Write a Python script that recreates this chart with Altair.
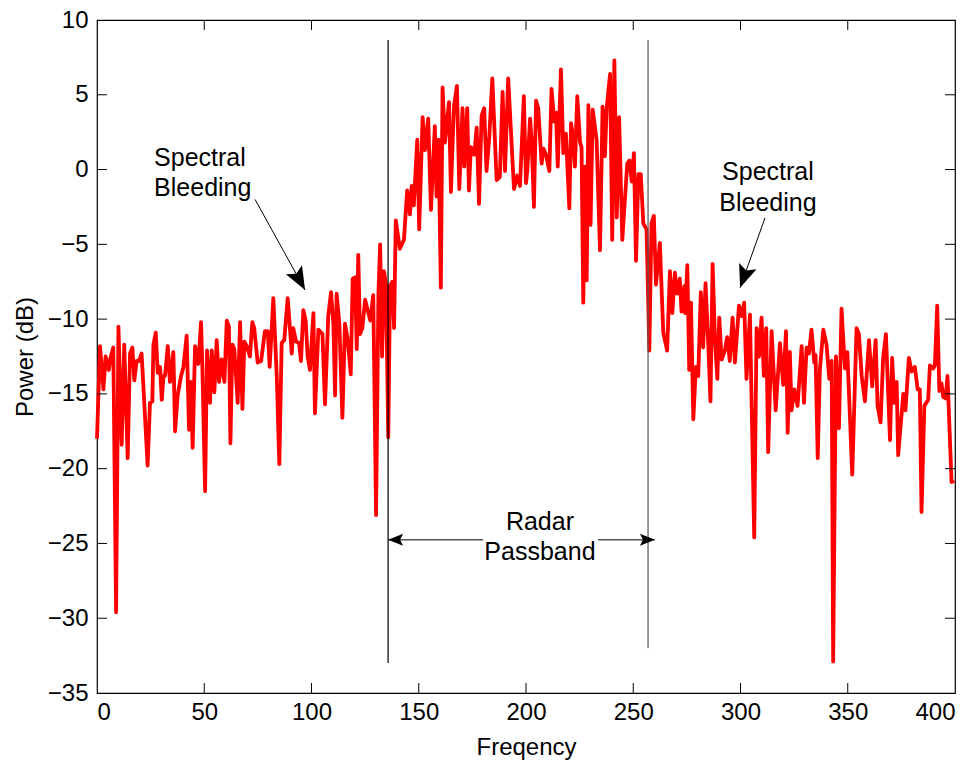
import math
import altair as alt
import pandas as pd

# ---------------- data ----------------
freq = [
    0, 1.4, 3, 4, 5.5, 6.3, 7.6, 8.9, 10, 11.5, 12.7, 14.3, 15.4, 16.5, 17.4, 18.5, 19.6, 20.8,
    23.6, 24.7, 25.8, 26.3, 27.4, 28.3, 29.4, 30.2, 31, 31.7, 33, 34, 35.6, 36.4, 37.6, 39.2,
    40.3, 41.8, 42.9, 43.7, 44.6, 45.7, 47.2, 48.5, 49.1, 50.4, 51.3, 52.7, 53.5, 54.7, 55.8,
    56.9, 58.1, 59.4, 60.5, 61.5, 62.2, 63.1, 64, 65.6, 66.7, 67.8, 68.7, 69.8, 71.3, 72.4,
    73.3, 74.9, 76.5, 78.3, 79.6, 80.5, 82.2, 83.8, 85, 86.1, 87.3, 88.9, 90.8, 91.5, 92.8,
    94.2, 95.1, 96.2,
    97.3, 98.2, 99.3, 100.9, 101.6, 103.2, 105.1, 106.3, 107.8, 109.1, 110.2, 111, 111.7, 113,
    114.4, 115.6, 116.9, 118.3, 119.2, 120.3, 121.1, 121.8, 122.6, 123.7, 125, 126.2, 127.4,
    128.8, 130.1, 131.2, 132, 132.9, 133.8, 134.7, 135.8, 136.6, 137.7, 138.5, 139.3,
    141.2, 143.1, 144.6, 145.9, 146.7, 147.7, 149.3, 150.2, 151.8, 152.9, 154.4, 155.7, 157.5,
    158.3, 159.2, 160.3, 161.1, 162.2, 164.1, 165, 166.4, 167.8, 168.9, 170.4, 171.2, 172.6,
    173.4, 174.3, 175.9, 177, 178.1, 179.3, 180.5, 181.6, 182.9, 184.3, 186.3, 187.8, 189.1,
    190.2, 191.7, 194.4, 195.9, 197.2,
    199, 200, 200.6, 201.9, 202.6, 203.7, 204.7, 205.7, 207.3, 208.1, 209.3, 210.9, 211.9,
    213.2, 214, 214.8, 216.3, 217.4, 218.6, 220.2, 221, 221.8, 222.8, 223.9, 225.2, 225.9,
    226.7, 227.5, 228.3, 229.1, 230.1, 231.1, 232.9, 234.5, 235.7, 236.8, 237.6, 239.2, 240.2,
    241.2, 242.3, 243.4, 244.9, 247.2, 248.2, 249.3, 250.3, 251.3, 252.4, 253.5,
    254.7, 256.2, 257.5, 258.5, 259.6, 260.6, 262.4, 264, 265.8, 267.1, 268.2, 269.4, 270.5,
    271.7, 272.5, 273.8, 274.2, 275.2, 276.1, 276.9, 278, 279.2, 280.3, 281.5, 282.6, 283.7,
    284.9, 286, 287, 288.1, 289.2, 290.1, 291.2, 292.7, 293.8, 295, 296.3,
    297.4, 299.3, 300.5, 301.7, 302.8, 304.4, 306.4, 307.5, 308.6, 309.8, 310.9, 312, 312.9,
    314.5, 316.4, 318.4, 319.9, 321.2, 322, 323, 323.8, 325.1, 326.6, 328.5, 329.6, 330.8,
    331.9, 333.1, 334.4, 335, 336, 337, 338.6, 340.1, 341.4, 342.5, 343.2, 344.5, 345.9,
    347.1, 348.7, 349.8, 352.1, 354.1, 355.2, 356.5, 358, 359.9, 361.4, 363, 363.9, 365.3,
    366.5, 367.8, 369.7, 370.7, 371.7, 372.8, 373.5, 375.9, 376.9, 378.5, 379.8, 381.3,
    382.6, 383.6, 384.4, 385.7, 387.5, 388.3, 389.9, 390.6, 391.7, 392.7, 393.7, 394.5,
    395.6, 396.5, 398.4, 399.6,
]
power = [
    -18.0, -11.8, -14.7, -12.5, -13.4, -12.6, -11.9, -29.6, -10.5, -18.4, -11.7, -19.3, -12.3,
    -11.9, -14.1, -12.8, -12.8, -12.3,
    -19.8, -15.6, -15.5, -11.7, -10.9, -13.6, -13.2, -15.4, -13.8, -13.8, -11.8, -14.2, -12.2,
    -17.5, -15.1, -13.8,
    -13.2, -11.1, -17.4, -14.2, -18.6, -11.8, -13.0, -10.2, -13.1, -21.5, -12.1, -15.6, -12.1,
    -14.9, -11.4,
    -14.2, -12.7, -14.2, -10.1, -10.5, -18.3, -11.7, -12.0, -15.6, -10.2, -16.0, -11.5, -11.8,
    -12.5, -10.2,
    -10.6, -12.9, -12.8, -10.8, -10.8, -13.2, -8.6, -13.8, -19.7, -11.6, -11.4, -8.6, -12.3,
    -10.6, -11.5,
    -11.6, -12.8, -9.4,
    -10.1, -12.5, -13.4, -9.6, -16.3, -10.7, -11.0, -15.7, -9.8, -8.2, -10.3, -15.1, -8.3,
    -10.3,
    -16.6, -10.3, -11.4, -13.7, -7.3, -7.2, -12.0, -5.7, -11.0, -10.6, -8.7, -9.4, -10.1,
    -8.4, -23.1, -8.3, -5.0, -12.5, -6.8, -7.6, -17.9, -7.8, -7.5, -10.6, -3.4,
    -5.3, -4.7, -1.4, -3.0, -1.1, -2.4, 2.0, -4.0, 3.5, 1.3, 3.4, -2.7, 2.9,
    -1.8, 2.0, -7.9, 5.5, 1.8, 4.5, -1.5, 4.2, 5.6, -1.3, 4.1, 0.2, 4.1,
    -1.4, 1.5, 1.0, 2.8, -2.3, 3.6, 4.1, -0.1, 2.2, 6.1, -0.7, -0.5, 5.2,
    -0.1, 6.1, -1.3, -0.4, -1.1,
    4.9, -0.9, -0.1, 3.4, 2.0, -2.5, 4.6, 4.1, 0.4, 1.4, 1.0, -0.1, 5.4,
    3.2, 3.8, 0.2, 6.7, 1.1, 2.4, -2.6, 3.1, 2.4, 0.2, 4.9, 1.8, 1.5,
    -8.9, 0.2, -7.4, 4.3, -3.7, 4.0, 2.0, -5.4, 4.2, 0.9, 4.1, 6.4, -4.7,
    7.3, -3.2, 3.5, -4.7, 0.4, 0.6, -0.8, 1.1, -6.1, -0.3, -0.3,
    -3.6, -4.0, -12.1, -3.6, -3.1, -7.7, -4.9, -10.9, -12.1, -6.8, -9.6, -6.9, -8.3,
    -7.3, -9.5, -7.8, -9.6, -6.4, -13.4, -8.9, -16.7, -13.2, -13.8, -8.2, -11.9, -7.6,
    -11.4, -15.5, -6.3, -11.4, -14.0, -9.9, -12.7, -12.1, -11.2, -12.8, -9.9,
    -12.9, -9.1, -9.8, -8.9, -14.0, -9.7, -24.6, -10.6, -12.5, -9.9, -13.8, -10.6, -18.9,
    -10.8, -16.1, -11.6, -14.4, -10.8, -17.6, -12.2, -16.1, -14.7, -15.8, -11.8, -15.6, -11.9,
    -12.3, -10.7, -12.9, -12.4, -19.3, -13.4, -10.7, -11.7, -14.0, -12.8, -32.9, -12.5, -17.3,
    -9.3, -13.3, -12.2, -20.4, -10.6, -11.0, -13.8, -15.5, -11.4, -14.5, -11.4, -15.8, -16.9,
    -12.6, -11.0, -18.1, -12.6, -15.6, -14.2, -19.1, -15.0, -16.1, -12.6, -13.5, -13.2,
    -14.7, -14.7, -22.9, -15.8, -15.4, -13.1, -13.3, -13.1, -9.1, -14.8, -14.3, -15.2,
    -15.3, -13.8, -20.9, -20.8,
]

x_ticks = [0, 50, 100, 150, 200, 250, 300, 350, 400]
y_ticks = [-35, -30, -25, -20, -15, -10, -5, 0, 5, 10]

# passband boundaries (vertical lines)
band_x = [135.7, 256.9]
band_top = [8.66, 8.66]
band_bottom = [-33.0, -32.0]
band_color = ["#000000", "#555555"]

# ---------------- layout ----------------
W, H = 858, 673
XMIN, XMAX, YMIN, YMAX = 0, 400, -35, 10
PX_X = W / (XMAX - XMIN)
PX_Y = H / (YMAX - YMIN)
FONT = "Liberation Sans"
FS = 24
FS_TXT = 25

xs = alt.Scale(domain=[XMIN, XMAX], nice=False, zero=False)
ys = alt.Scale(domain=[YMIN, YMAX], nice=False, zero=False)

spec_df = pd.DataFrame({"f": freq, "p": power})
spec_df = spec_df.sort_values("f", kind="stable").reset_index(drop=True)

line = alt.Chart(spec_df).mark_line(color="#FF0000", strokeWidth=3.8, strokeJoin="round").encode(
    x=alt.X("f:Q", scale=xs,
            axis=alt.Axis(values=x_ticks, title="Freqency", labelFontSize=FS, titleFontSize=FS,
                          labelFont=FONT, titleFont=FONT, titleFontWeight="normal",
                          labelColor="black", titleColor="black", ticks=False, domain=False,
                          grid=False, labelPadding=7, titleY=54, titleBaseline="middle")),
    y=alt.Y("p:Q", scale=ys,
            axis=alt.Axis(values=y_ticks, title="Power (dB)", labelFontSize=FS, titleFontSize=FS,
                          labelFont=FONT, titleFont=FONT, titleFontWeight="normal",
                          labelColor="black", titleColor="black", ticks=False, domain=False,
                          grid=False, labelPadding=9, titleX=-72, titleY=H / 2,
                          titleAngle=270, titleAlign="center", titleBaseline="middle")),
)

# inside tick marks on all four sides
tlx = 10 / PX_X
tly = 10 / PX_Y
tick_rows = []
for v in x_ticks[1:-1]:
    tick_rows.append({"x": v, "x2": v, "y": YMIN, "y2": YMIN + tly})
    tick_rows.append({"x": v, "x2": v, "y": YMAX, "y2": YMAX - tly})
for v in y_ticks[1:-1]:
    tick_rows.append({"x": XMIN, "x2": XMIN + tlx, "y": v, "y2": v})
    tick_rows.append({"x": XMAX - tlx, "x2": XMAX, "y": v, "y2": v})
ticks = alt.Chart(pd.DataFrame(tick_rows)).mark_rule(color="black", strokeWidth=1).encode(
    x=alt.X("x:Q", scale=xs), x2="x2:Q", y=alt.Y("y:Q", scale=ys), y2="y2:Q")

band_df = pd.DataFrame({"x": band_x, "y": band_bottom, "y2": band_top, "c": band_color})
bands = alt.Chart(band_df).mark_rule(strokeWidth=1.2).encode(
    x=alt.X("x:Q", scale=xs), y=alt.Y("y:Q", scale=ys), y2="y2:Q",
    color=alt.Color("c:N", scale=None))

# arrows
ARROW = "M0,0L-0.4,1L0,0.8L0.4,1Z"


def head_angle(x0, y0, x1, y1):
    dx = (x1 - x0) * PX_X
    dy = -(y1 - y0) * PX_Y
    return math.degrees(math.atan2(dx, -dy)) % 360


bleed_lines = pd.DataFrame({
    "x": [73.7, 311.4], "y": [-2.0, -3.24],
    "x2": [97.0, 299.8], "y2": [-8.05, -7.9],
})
bleed_lines["ang"] = [head_angle(r.x, r.y, r.x2, r.y2) for r in bleed_lines.itertuples()]

arrow_lines = alt.Chart(bleed_lines).mark_rule(color="black", strokeWidth=1).encode(
    x=alt.X("x:Q", scale=xs), y=alt.Y("y:Q", scale=ys), x2="x2:Q", y2="y2:Q")
arrow_heads = alt.Chart(bleed_lines).mark_point(
    shape=ARROW, filled=True, color="black", size=2116, opacity=1, strokeWidth=0).encode(
    x=alt.X("x2:Q", scale=xs), y=alt.Y("y2:Q", scale=ys), angle=alt.Angle("ang:Q", scale=None))

pb_y = -24.76
pb_lines = pd.DataFrame({"x": [135.7, 233.5], "x2": [180.0, 260.1], "y": [pb_y, pb_y]})
pb_rules = alt.Chart(pb_lines).mark_rule(color="black", strokeWidth=1).encode(
    x=alt.X("x:Q", scale=xs), x2="x2:Q", y=alt.Y("y:Q", scale=ys))
pb_heads_df = pd.DataFrame({"x": [135.7, 260.1], "y": [pb_y, pb_y], "ang": [270, 90]})
pb_heads = alt.Chart(pb_heads_df).mark_point(
    shape=ARROW, filled=True, color="black", size=900, opacity=1, strokeWidth=0).encode(
    x=alt.X("x:Q", scale=xs), y=alt.Y("y:Q", scale=ys), angle=alt.Angle("ang:Q", scale=None))

labels_df = pd.DataFrame({
    "x": [48.0, 49.3, 312.8, 312.8, 206.5, 206.5],
    "y": [0.78, -1.23, -0.16, -2.23, -23.56, -25.56],
    "t": ["Spectral", "Bleeding", "Spectral", "Bleeding", "Radar", "Passband"],
})
labels = alt.Chart(labels_df).mark_text(
    font=FONT, fontSize=FS_TXT, color="black", align="center", baseline="middle").encode(
    x=alt.X("x:Q", scale=xs), y=alt.Y("y:Q", scale=ys), text="t:N")

chart = alt.layer(line, bands, ticks, arrow_lines, arrow_heads, pb_rules, pb_heads, labels).properties(
    width=W, height=H,
    autosize=alt.AutoSizeParams(type="none"),
    padding={"left": 97, "top": 20, "right": 24, "bottom": 71},
    background="white",
).configure_view(stroke="black", strokeWidth=1.2)

chart.save("out.html", embed_options={"renderer": "svg", "actions": False})
